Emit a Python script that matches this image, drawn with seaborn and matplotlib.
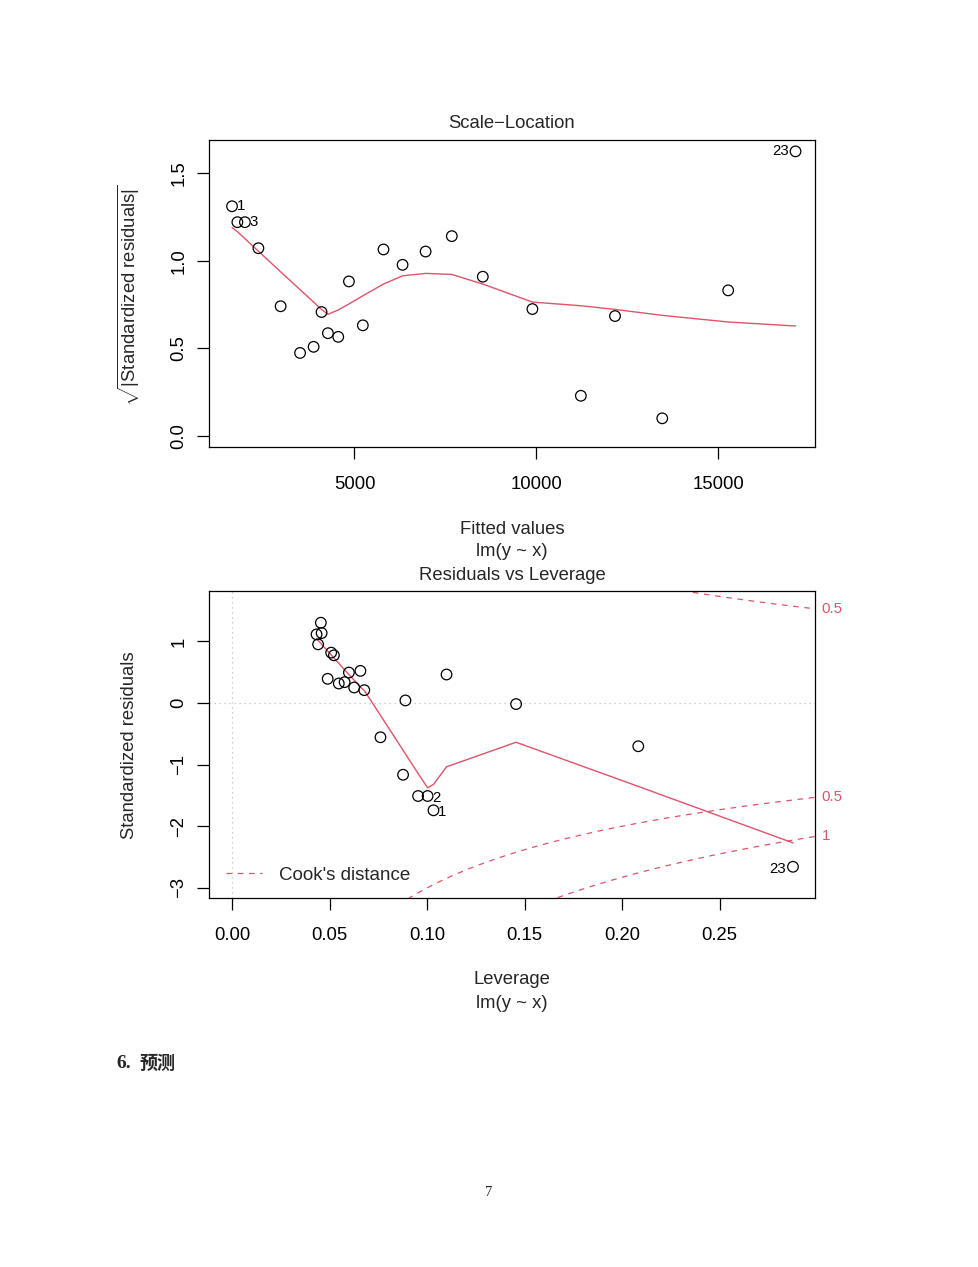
import numpy as np
import pandas as pd
import matplotlib
matplotlib.use("Agg")
import matplotlib.pyplot as plt
import matplotlib.transforms as mtransforms
from matplotlib.lines import Line2D
import seaborn as sns

# ---------------- data: Scale-Location ----------------
fitted = [1633, 1780, 1987, 2358, 2969, 3504, 3876, 4094, 4269, 4553, 4847, 5229,
          5797, 6321, 6955, 7675, 8527, 9891, 11223, 12162, 13461, 15273, 17125]
sqrt_abs_std_resid = [1.312, 1.221, 1.221, 1.072, 0.740, 0.473, 0.508, 0.707, 0.586,
                      0.565, 0.882, 0.631, 1.065, 0.977, 1.053, 1.141, 0.909, 0.724,
                      0.228, 0.684, 0.099, 0.831, 1.626]
sl_smooth = [1.190, 1.167, 1.127, 1.055, 0.937, 0.835, 0.764, 0.722, 0.694, 0.719,
             0.753, 0.800, 0.867, 0.914, 0.928, 0.922, 0.867, 0.764, 0.743, 0.722,
             0.688, 0.650, 0.627]
sl_id_index = [0, 2, 22]
sl_id_label = ["1", "3", "23"]
sl_id_side = ["right", "right", "left"]
sl_xticks = [5000, 10000, 15000]
sl_yticks = [0.0, 0.5, 1.0, 1.5]
sl_yticklabels = ["0.0", "0.5", "1.0", "1.5"]

# ---------------- data: Residuals vs Leverage ----------------
leverage = [0.0454, 0.0432, 0.0458, 0.0440, 0.0507, 0.0521, 0.0489, 0.0546, 0.0576,
            0.0598, 0.0657, 0.0625, 0.0677, 0.0888, 0.1099, 0.1456, 0.0760, 0.0876,
            0.0953, 0.1002, 0.1032, 0.2083, 0.2877]
std_resid = [1.305, 1.116, 1.137, 0.954, 0.819, 0.776, 0.394, 0.318, 0.340, 0.496,
             0.523, 0.253, 0.210, 0.043, 0.464, -0.016, -0.555, -1.164, -1.509,
             -1.509, -1.741, -0.701, -2.658]
rl_smooth_lev = [0.0432, 0.0440, 0.0454, 0.0458, 0.0489, 0.0507, 0.0521, 0.0546,
                 0.0576, 0.0598, 0.0625, 0.0657, 0.0677, 0.0760, 0.0876, 0.0888,
                 0.0953, 0.1002, 0.1032, 0.1099, 0.1456, 0.2083, 0.2877]
rl_smooth = [1.046, 1.019, 0.970, 0.954, 0.846, 0.782, 0.733, 0.647, 0.539, 0.464,
             0.372, 0.259, 0.205, -0.199, -0.766, -0.825, -1.143, -1.375, -1.321,
             -1.035, -0.636, -1.353, -2.270]
rl_id_index = [19, 20, 22]
rl_id_label = ["2", "1", "23"]
rl_id_side = ["right", "right", "left"]
rl_xticks = [0.00, 0.05, 0.10, 0.15, 0.20, 0.25]
rl_xticklabels = ["0.00", "0.05", "0.10", "0.15", "0.20", "0.25"]
rl_yticks = [-3, -2, -1, 0, 1]
rl_yticklabels = ["\u22123", "\u22122", "\u22121", "0", "1"]
n_params = 2
cook_levels = [0.5, 1.0]

RED = "#DF536B"
GRAY = "#BEBEBE"
FS = 13.3
FS_ID = 10.8

sns.set_theme(style="ticks")
plt.rcParams.update({
    "font.family": ["Liberation Sans", "DejaVu Sans"],
    "mathtext.fontset": "custom",
    "mathtext.rm": "Liberation Sans",
    "mathtext.it": "Liberation Sans:italic",
    "axes.edgecolor": "black",
    "axes.linewidth": 0.9,
    "xtick.color": "black",
    "ytick.color": "black",
    "xtick.major.size": 8.6,
    "ytick.major.size": 8.6,
    "xtick.major.width": 0.9,
    "ytick.major.width": 0.9,
    "xtick.labelsize": FS,
    "ytick.labelsize": FS,
    "xtick.major.pad": 12,
    "ytick.major.pad": 7,
    "axes.grid": False,
    "figure.facecolor": "white",
    "axes.facecolor": "white",
})

W, H = 979, 1267
fig = plt.figure(figsize=(W / 100, H / 100), dpi=100)


def axrect(l, t, r, b):
    return [l / W, 1 - b / H, (r - l) / W, (b - t) / H]


def ftext(x, y, s, **kw):
    kw.setdefault("ha", "center")
    kw.setdefault("va", "center")
    kw.setdefault("fontsize", FS)
    fig.text(x / W, 1 - y / H, s, **kw)


def style_axes(ax):
    for sp in ax.spines.values():
        sp.set_visible(True)
        sp.set_color("black")
        sp.set_linewidth(0.9)
    for lab in ax.get_yticklabels():
        lab.set_rotation(90)
        lab.set_va("center")
        lab.set_ha("right")
    ax.set_xlabel("")
    ax.set_ylabel("")


def add_ids(ax, xs, ys, idx, labels, sides, dy=0.0):
    for i, lab, side in zip(idx, labels, sides):
        off = 3.5 if side == "right" else -4.8
        ax.annotate(lab, (xs[i], ys[i]), xytext=(off, dy), textcoords="offset points",
                    ha="left" if side == "right" else "right", va="center",
                    fontsize=FS_ID, color="black", annotation_clip=False)


# ---------------- Scale-Location ----------------
ax1 = fig.add_axes(axrect(209, 140, 815, 447))
df1 = pd.DataFrame({"fitted": fitted, "y": sqrt_abs_std_resid, "smooth": sl_smooth})
sns.lineplot(data=df1, x="fitted", y="smooth", ax=ax1, color=RED, lw=1.0,
             sort=False, estimator=None, zorder=2)
sns.scatterplot(data=df1, x="fitted", y="y", ax=ax1, marker="o", s=58,
                facecolor="none", edgecolor="black", linewidth=0.9, zorder=3)
add_ids(ax1, fitted, sqrt_abs_std_resid, sl_id_index, sl_id_label, sl_id_side)
ax1.set_xlim(1000, 17660)
ax1.set_ylim(-0.065, 1.691)
ax1.set_xticks(sl_xticks)
ax1.set_xticklabels([str(v) for v in sl_xticks])
ax1.set_yticks(sl_yticks)
ax1.set_yticklabels(sl_yticklabels)
style_axes(ax1)

ftext(512, 123, "Scale\u2212Location")
ftext(512, 529, "Fitted values")
ftext(512, 552, "lm(y ~ x)")
ftext(129, 295, r"$\sqrt{|\mathrm{Standardized\ residuals}|}$", rotation=90)

# ---------------- Residuals vs Leverage ----------------
ax2 = fig.add_axes(axrect(209, 591, 815, 898))
xlim2 = (-0.0120, 0.2990)
ylim2 = (-3.165, 1.82)
ax2.set_xlim(*xlim2)
ax2.set_ylim(*ylim2)
ax2.axhline(0, color=GRAY, lw=0.9, ls=(0, (1, 3)), zorder=1)
ax2.axvline(0, color=GRAY, lw=0.9, ls=(0, (1, 3)), zorder=1)

lev_arr = np.array(leverage)
hh = np.linspace(min(lev_arr.min(), lev_arr.max() / 100), xlim2[1], 101)
for crit in cook_levels:
    cl = np.sqrt(crit * n_params * (1 - hh) / hh)
    ax2.plot(hh, cl, color=RED, lw=0.9, ls=(0, (4.5, 4.5)), zorder=1)
    ax2.plot(hh, -cl, color=RED, lw=0.9, ls=(0, (4.5, 4.5)), zorder=1)

df2 = pd.DataFrame({"lev": rl_smooth_lev, "smooth": rl_smooth})
sns.lineplot(data=df2, x="lev", y="smooth", ax=ax2, color=RED, lw=1.0,
             sort=False, estimator=None, zorder=2)
df3 = pd.DataFrame({"lev": leverage, "r": std_resid})
sns.scatterplot(data=df3, x="lev", y="r", ax=ax2, marker="o", s=58,
                facecolor="none", edgecolor="black", linewidth=0.9, zorder=3)
add_ids(ax2, leverage, std_resid, rl_id_index, rl_id_label, rl_id_side, dy=-1.5)

# Cook's distance labels on right side
xmax = min(0.99, xlim2[1])
ymult = np.sqrt(n_params * (1 - xmax) / xmax)
trans = mtransforms.blended_transform_factory(ax2.transAxes, ax2.transData)
for crit in cook_levels:
    for sgn in (1, -1):
        yv = sgn * np.sqrt(crit) * ymult
        if ylim2[0] <= yv <= ylim2[1]:
            ax2.text(1.011, yv, f"{crit:g}", transform=trans, ha="left", va="center",
                     fontsize=FS_ID, color=RED, clip_on=False)

leg_handle = Line2D([], [], color=RED, lw=0.9, ls=(0, (4.5, 4.5)))
ax2.legend([leg_handle], ["Cook's distance"], loc="lower left", frameon=False,
           fontsize=FS + 0.2, handlelength=1.9, handletextpad=0.9, borderaxespad=0.0,
           borderpad=0.75, bbox_to_anchor=(0.005, 0.0))

ax2.set_xticks(rl_xticks)
ax2.set_xticklabels(rl_xticklabels)
ax2.set_yticks(rl_yticks)
ax2.set_yticklabels(rl_yticklabels)
style_axes(ax2)

ftext(512, 576, "Residuals vs Leverage")
ftext(512, 980, "Leverage")
ftext(512, 1003, "lm(y ~ x)")
ftext(130, 745, "Standardized residuals", rotation=90)

# ---------------- page text ----------------
ftext(116, 1063, "6.", ha="left", fontsize=14, fontweight="bold",
      family=["Liberation Serif", "DejaVu Serif"])
ftext(140, 1063, "\u9884\u6d4b", ha="left", fontsize=13, fontweight="bold",
      family=["Noto Sans CJK SC", "DejaVu Sans"])
ftext(489, 1193, "7", fontsize=10.5, family=["Liberation Serif", "DejaVu Serif"])

fig.savefig("out.png", dpi=100, facecolor="white")
